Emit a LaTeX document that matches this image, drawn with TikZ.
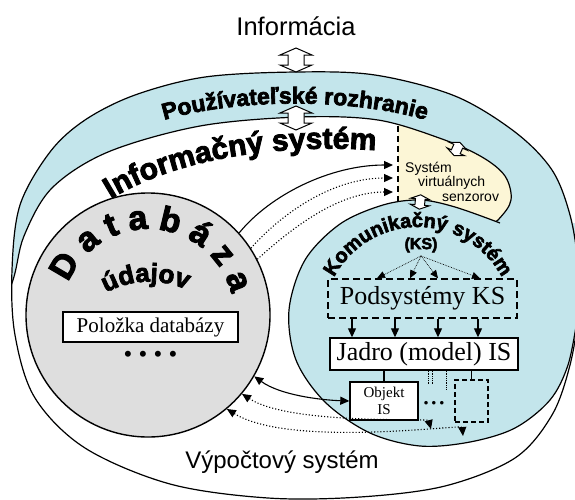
\documentclass[tikz,border=0pt]{standalone}
\usepackage{fontspec}
\setmainfont{Liberation Serif}
\newfontfamily\arialfont{Liberation Sans}
\newfontfamily\heavyfont{Liberation Sans}[BoldFeatures={FakeBold=3}]
\usetikzlibrary{arrows.meta,decorations.text,calc}

\definecolor{uiblue}{RGB}{195,229,235}
\definecolor{senzyellow}{RGB}{252,246,214}
\definecolor{dbgray}{RGB}{222,222,222}

\newcommand{\ribbon}[1]{\fontsize{#1}{#1}\selectfont\heavyfont\bfseries}
\newcommand{\vypocetshape}{plot[smooth cycle, tension=0.55] coordinates {(296,72) (375,75) (455,96) (515,132) (552,170) (570,215) (578,265) (578,315) (570,365) (552,415) (515,458) (445,486) (360,497) (268,498) (170,484) (85,448) (35,398) (15,335) (12,270) (20,205) (50,152) (85,120) (135,95) (205,77)}}
\newcommand{\infoshape}{plot[smooth cycle, tension=0.55] coordinates {(-15,345) (12,283) (24,236) (52,188) (108,152) (200,126) (300,117) (378,120) (442,139) (482,157) (505,176) (511,200) (498,220) (470,245) (545,285) (588,312) (610,390) (600,480) (450,530) (250,530) (50,520) (-20,450)}}

\tikzset{
    hollowarr/.pic={
        \draw[line width=1pt, fill=white] (0,-12) -- (16,-5) -- (8,-5) -- (8,5) -- (16,5) -- (0,12)
            -- (-16,5) -- (-8,5) -- (-8,-5) -- (-16,-5) -- cycle;
    }
}

\begin{document}
\begin{tikzpicture}[
    x=1pt, y=-1pt,
    sysline/.style={line width=1.2pt},
    item/.style={
        rectangle,
        draw=black,
        line width=1.4pt,
        fill=white,
        inner sep=0pt,
        align=center
    },
    dashitem/.style={item, dash pattern=on 7pt off 4pt, fill=none},
    arr/.style={-{Triangle[length=9pt,width=8pt]}, line width=1.1pt},
    arrboth/.style={{Triangle[length=9pt,width=8pt]}-{Triangle[length=9pt,width=8pt]}, line width=1.1pt},
    thinarr/.style={-{Triangle[length=8pt,width=7pt]}, densely dotted, line width=0.7pt},
    arctext/.style={decorate, decoration={text along path, text align=center, text={#1}}}
]
\useasboundingbox (0,0) rectangle (575,499);

% --- Vypoctovy system, rozhranie a informacny system ---
\fill[uiblue] \vypocetshape;
\begin{scope}
    \clip \vypocetshape;
    \fill[white] \infoshape;
    \begin{scope}
        \clip \infoshape;
        \fill[senzyellow] (398,100) rectangle (530,235);
    \end{scope}
    \draw[sysline] \infoshape;
\end{scope}

% --- Komunikacny system ---
\fill[uiblue] plot[smooth, tension=0.55] coordinates {(500,223) (455,207) (420,200) (383,205) (340,224) (305,260) (289,310) (296,360) (325,402) (370,433) (420,446) (470,442) (515,428) (550,400) (568,365) (577,320)} -- (600,320) -- (600,223) -- cycle;
\draw[sysline] plot[smooth, tension=0.55] coordinates {(500,223) (455,207) (420,200) (383,205) (340,224) (305,260) (289,310) (296,360) (325,402) (370,433) (420,446) (470,442) (515,428) (550,400) (568,365) (577,320)};
\draw[sysline] \vypocetshape;
\draw[sysline, dash pattern=on 6pt off 4pt] (398,126) -- (398,205);

% --- Databaza ---
\node[circle, draw=black, line width=1.4pt, fill=dbgray, minimum size=244pt, inner sep=0pt] (db) at (148,315) {};
\node[item, minimum width=175pt, minimum height=30pt, font=\fontsize{21}{24}\selectfont] (polozka) at (150.5,327) {Položka databázy};
\node[font=\fontsize{25}{25}\selectfont] (dots) at (150.5,357) {• • • •};

% --- Texts ---
\node[font=\arialfont\fontsize{25.5}{28}\selectfont, anchor=base] (info) at (296,35) {Informácia};
\node[font=\arialfont\fontsize{24}{28}\selectfont, anchor=base] (vypocet) at (282,468) {Výpočtový systém};
\path[arctext={|\ribbon{23}|Používateľské rozhranie}] (120,138) .. controls (200,92) and (390,92) .. (470,138);
\path[arctext={|\ribbon{30}|Informačný systém}] (95,210) .. controls (160,160) and (280,140) .. (395,152);
\path[arctext={|\ribbon{34}|D a t a b á z a}] (db.center) ++(-166:86) arc[start angle=-166, end angle=-6, radius=86];
\path[arctext={|\ribbon{26}|údajov}] (98,298) .. controls (125,278) and (165,276) .. (195,294);
\path[arctext={|\ribbon{20}|Komunikačný systém}] (418,322) ++(-170:95) arc[start angle=-170, end angle=-10, radius=95];
\node[font=\ribbon{16}] (kslabel) at (421,245) {(KS)};
\node[font=\arialfont\fontsize{14}{16}\selectfont, anchor=base west, inner sep=0pt] (vs1) at (405,172) {Systém};
\node[font=\arialfont\fontsize{14}{16}\selectfont, anchor=base west, inner sep=0pt] (vs2) at (418,186) {virtuálnych};
\node[font=\arialfont\fontsize{14}{16}\selectfont, anchor=base west, inner sep=0pt] (vs3) at (442,201) {senzorov};

% --- Hollow arrows across the borders ---
\pic (ha1) at (296,60) {hollowarr};
\pic (ha2) at (296,118) {hollowarr};
\pic[scale=0.6, rotate=-24] (ha3) at (457,149) {hollowarr};
\pic[scale=0.6, rotate=-5] (ha4) at (420,202) {hollowarr};

% --- Subsystems and core ---
\node[dashitem, minimum width=189pt, minimum height=39pt, font=\fontsize{26}{28}\selectfont] (pod) at (422.5,298.5) {Podsystémy KS};
\node[item, minimum width=188pt, minimum height=32pt, font=\fontsize{26}{28}\selectfont] (jadro) at (424,354) {Jadro (model) IS};
\node[item, minimum width=68pt, minimum height=38pt, font=\fontsize{15}{17}\selectfont] (obj) at (384,401) {Objekt\\IS};
\node[dashitem, line width=1.1pt, dash pattern=on 5pt off 3pt, minimum width=33pt, minimum height=42pt] (emptybox) at (471.5,401) {};
\node[font=\fontsize{13}{13}\selectfont\bfseries] (more) at (434,404) {• • •};

\foreach \xa in {377,410,438,480}
    \draw[thinarr] (kslabel.south) -- (pod.north -| \xa,0);
\foreach \xa in {352,395,438,478}
    \draw[arr] (pod.south -| \xa,0) -- (jadro.north -| \xa,0);
\draw[line width=1.1pt] (obj.north) -- (obj.north |- jadro.south);
\draw[densely dotted, line width=0.8pt] (jadro.south -| 428,0) -- ++(0,13);
\draw[densely dotted, line width=0.8pt] (jadro.south -| 432,0) -- ++(0,13);
\draw[densely dotted, line width=0.8pt] (jadro.south -| 446,0) -- ++(0,19);
\draw[line width=0.8pt] (jadro.south -| emptybox.north) -- (emptybox.north);

% --- Connections to the database ---
\coordinate (sen1) at (393,165);
\coordinate (sen2) at (393,178);
\coordinate (sen3) at (393,192);
\coordinate (dot1) at (431,429);
\coordinate (dot2) at (463,436);
\draw[arr] (db.42) .. controls (270,195) and (330,165) .. (sen1);
\draw[arr, dotted] (db.33) .. controls (285,210) and (335,178) .. (sen2);
\draw[arr, dotted] (db.27) .. controls (295,225) and (340,192) .. (sen3);
\draw[arrboth] (db.-30) .. controls (280,395) and (320,400) .. (obj.west);
\draw[arrboth, dotted] (db.-40) .. controls (290,425) and (428,418) .. (dot1);
\draw[arrboth, dotted] (db.-50) .. controls (290,448) and (462,424) .. (dot2);

\end{tikzpicture}
\end{document}
